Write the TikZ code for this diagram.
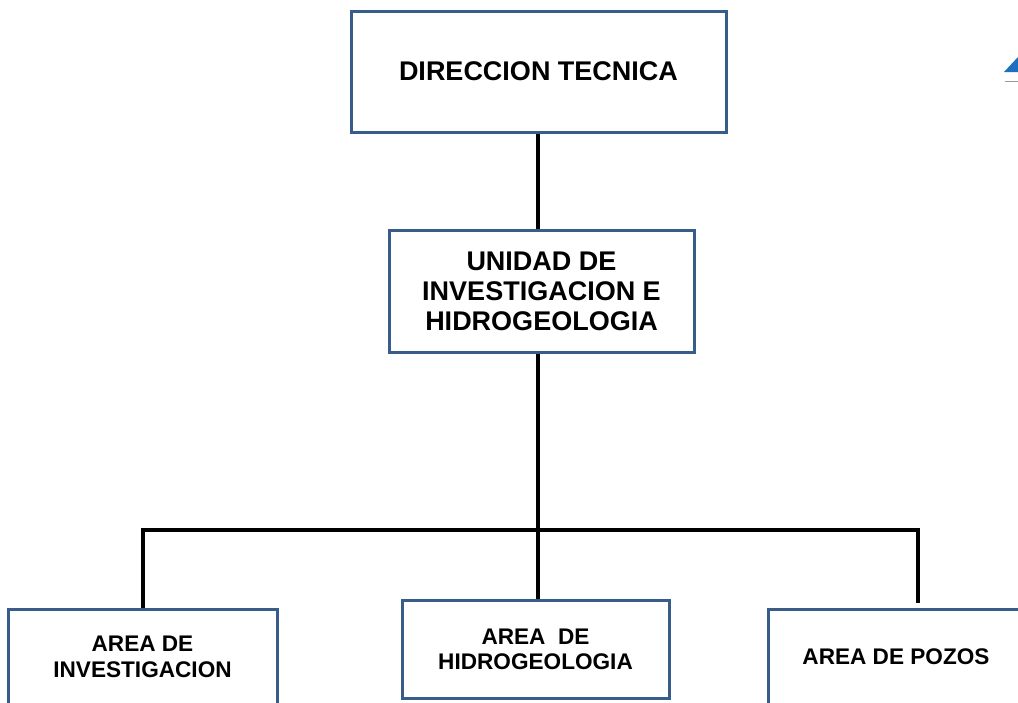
\documentclass[tikz,border=0pt]{standalone}
\usepackage{fontspec}
\setmainfont{Liberation Sans}
\definecolor{boxblue}{HTML}{385D8A}
\definecolor{triblue}{HTML}{1F6FBF}
\definecolor{fragray}{HTML}{9A9A9A}
\begin{document}
\begin{tikzpicture}[x=1pt,y=-1pt,
  orgbox/.style={draw=boxblue, line width=3pt, fill=white, inner sep=0pt,
    align=center, font=\bfseries},
  bigtext/.style={font=\bfseries\fontsize{27}{30}\selectfont},
  smalltext/.style={font=\bfseries\fontsize{22.6}{25.5}\selectfont},
  link/.style={draw=black, line width=4pt}]
\useasboundingbox (0,0) rectangle (1018,702);
\clip (0,0) rectangle (1018,702);
% boxes
\node[orgbox, bigtext, minimum width=375pt, minimum height=121pt] (dt) at (538.5,71.5) {DIRECCION TECNICA};
\node[orgbox, bigtext, minimum width=305pt, minimum height=122pt] (uih) at (541.5,291) {UNIDAD DE\\INVESTIGACION E\\HIDROGEOLOGIA};
\node[orgbox, smalltext, minimum width=269pt, minimum height=95pt] (ai) at (142.5,657) {AREA DE\\INVESTIGACION};
\node[orgbox, smalltext, minimum width=267pt, minimum height=98pt] (ah) at (535.5,649.5) {AREA~~DE\\HIDROGEOLOGIA};
\node[orgbox, smalltext, minimum width=255pt, minimum height=95pt] (ap) at (896,657) {AREA DE POZOS};
% junction coordinates
\coordinate (j) at (537.5,530);
\coordinate (cl) at (143,530);
\coordinate (cr) at (918,530);
% connectors
\draw[link] (dt.south -| j) -- (uih.north -| j);
\draw[link] (uih.south -| j) -- (j);
\draw[link] (j) -- (ah.north -| j);
\draw[link, line join=miter] (ai.north -| cl) -- (cl) -- (cr) -- ([yshift=5pt]cr |- ap.north);
% fragment at top right
\fill[triblue] (1004,72) -- (1018,57) -- (1018,72) -- cycle;
\draw[fragray, line width=1pt] (1005,81) -- (1018,81);
\end{tikzpicture}
\end{document}
